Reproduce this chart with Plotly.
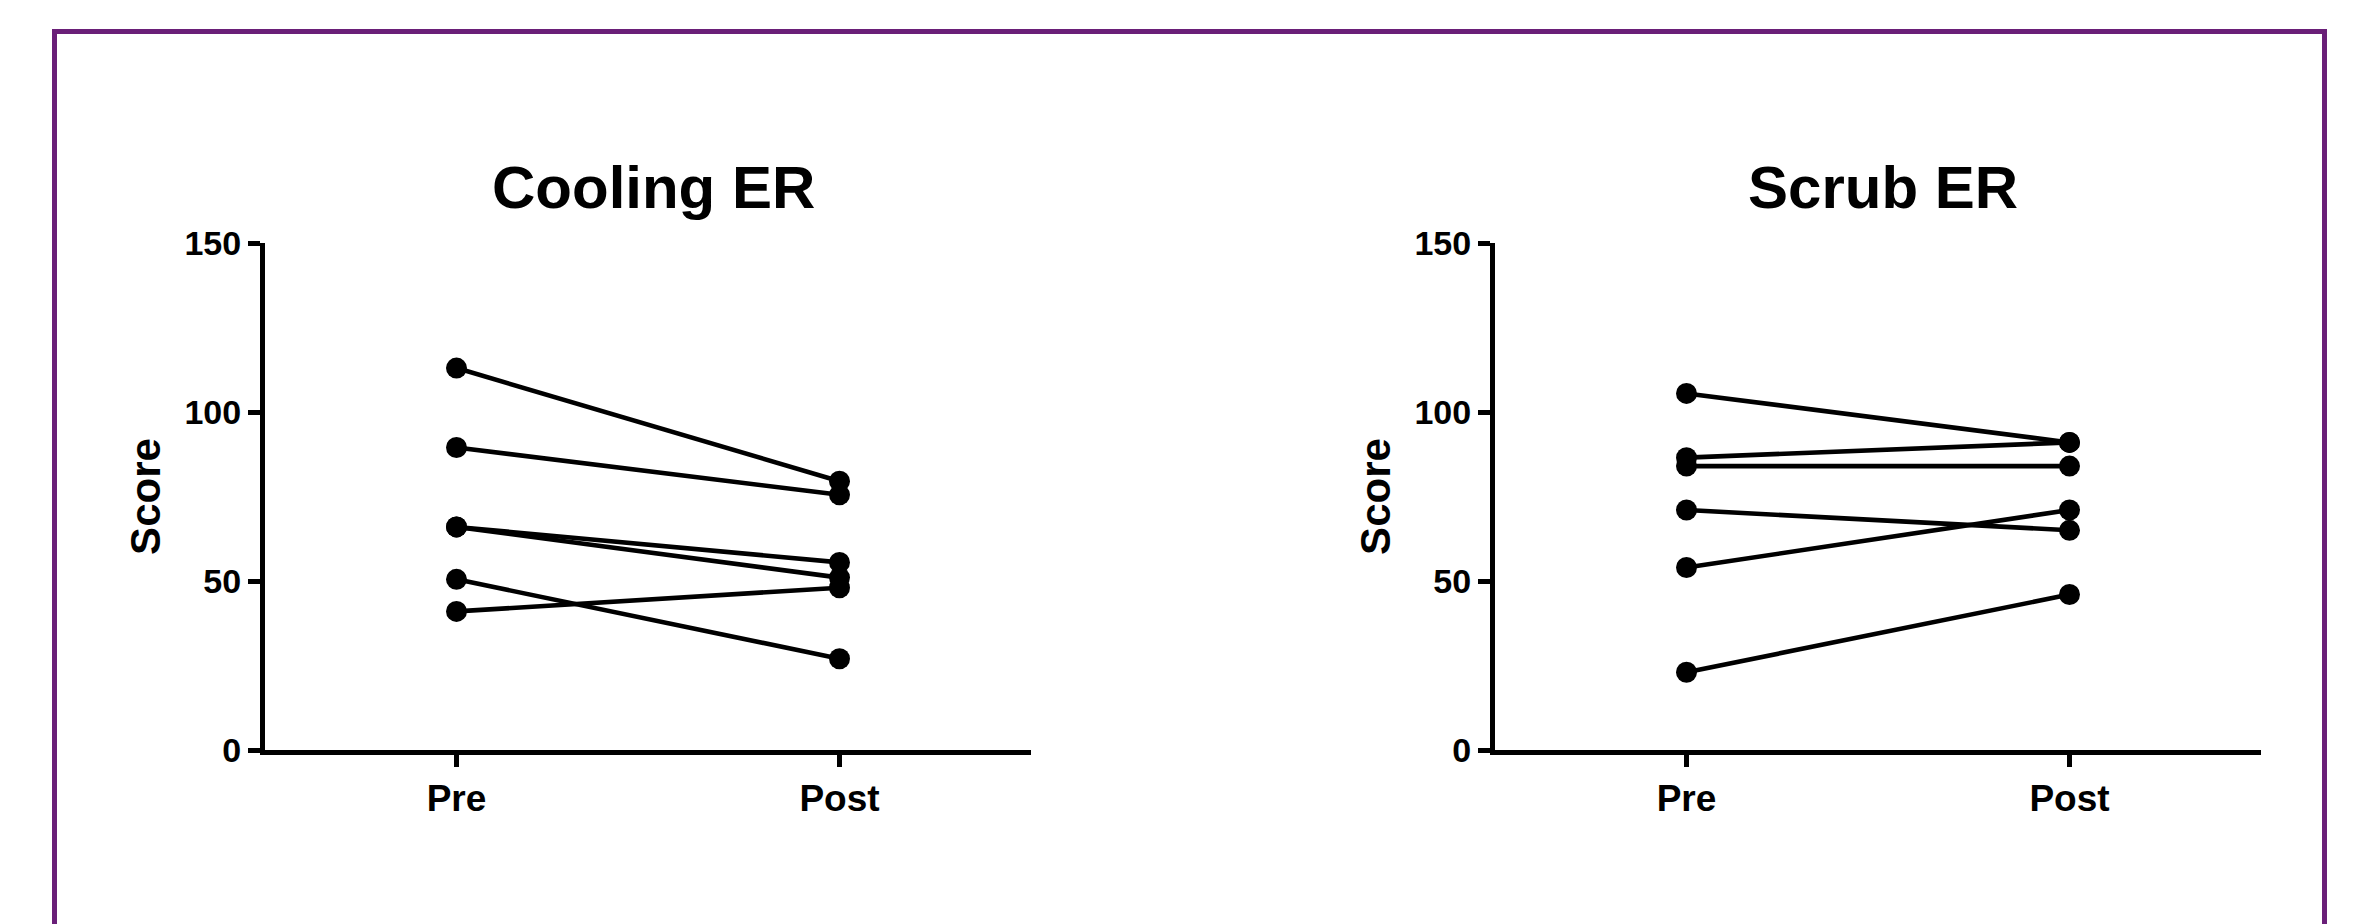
import plotly.graph_objects as go

W, H = 2357, 924
OFF = 8  # page body margin in the browser

categories = ["Pre", "Post"]
cooling_pre = [113, 89.5, 66, 66, 50.5, 41]
cooling_post = [79.5, 75.5, 55.5, 51, 27, 48]
scrub_pre = [105.5, 86.5, 84, 71, 54, 23]
scrub_post = [91, 91, 84, 65, 71, 46]
titles = ["Cooling ER", "Scrub ER"]
y_ticks = [0, 50, 100, 150]

FONT = "Liberation Sans, Arial, sans-serif"

fig = go.Figure()

def add_panel(pre, post, xa, ya):
    for a, b in zip(pre, post):
        fig.add_trace(go.Scatter(
            x=categories, y=[a, b], xaxis=xa, yaxis=ya,
            mode="lines+markers",
            line=dict(color="black", width=4.6),
            marker=dict(color="black", size=21),
            showlegend=False, cliponaxis=False,
        ))

add_panel(cooling_pre, cooling_post, "x", "y")
add_panel(scrub_pre, scrub_post, "x2", "y2")

def px_x(v):
    return (v - OFF) / W

def px_y(v):
    return 1 - (v - OFF) / H

y_dom = [px_y(750), px_y(243)]

xcommon = dict(
    type="category", range=[-0.5, 1.5], showline=True, linecolor="black",
    linewidth=5, ticks="outside", ticklen=12, tickwidth=4.5, tickcolor="black",
    showgrid=False, zeroline=False, automargin=False,
    tickfont=dict(family=FONT, size=37, color="black", weight="bold"),
    fixedrange=True,
)
ycommon = dict(
    range=[0, 150], tickvals=y_ticks, showline=True, linecolor="black",
    linewidth=5, ticks="outside", ticklen=12, tickwidth=4.5, tickcolor="black",
    showgrid=False, zeroline=False, automargin=False,
    tickfont=dict(family=FONT, size=34, color="black", weight="bold"),
    title=dict(text="<b>Score</b>", font=dict(family=FONT, size=42, color="black"), standoff=12),
    fixedrange=True,
)

fig.update_layout(
    width=W, height=H,
    margin=dict(l=0, r=0, t=0, b=0, autoexpand=False),
    paper_bgcolor="white", plot_bgcolor="white",
    xaxis=dict(domain=[px_x(265), px_x(1031)], anchor="y", **xcommon),
    yaxis=dict(domain=y_dom, anchor="x", **ycommon),
    xaxis2=dict(domain=[px_x(1495), px_x(2261)], anchor="y2", **xcommon),
    yaxis2=dict(domain=y_dom, anchor="x2", **ycommon),
)

for txt, cx in zip(titles, [653, 1883]):
    fig.add_annotation(
        text=f"<b>{txt}</b>", xref="paper", yref="paper",
        x=px_x(cx), y=px_y(188), xanchor="center", yanchor="middle",
        showarrow=False, font=dict(family=FONT, size=60, color="black"),
    )

fig.add_shape(
    type="rect", xref="paper", yref="paper",
    x0=px_x(54.5), x1=px_x(2324.5), y0=-0.2, y1=px_y(31.5),
    line=dict(color="#6A1F78", width=5), fillcolor="rgba(0,0,0,0)",
)

fig.write_html("out.html")
